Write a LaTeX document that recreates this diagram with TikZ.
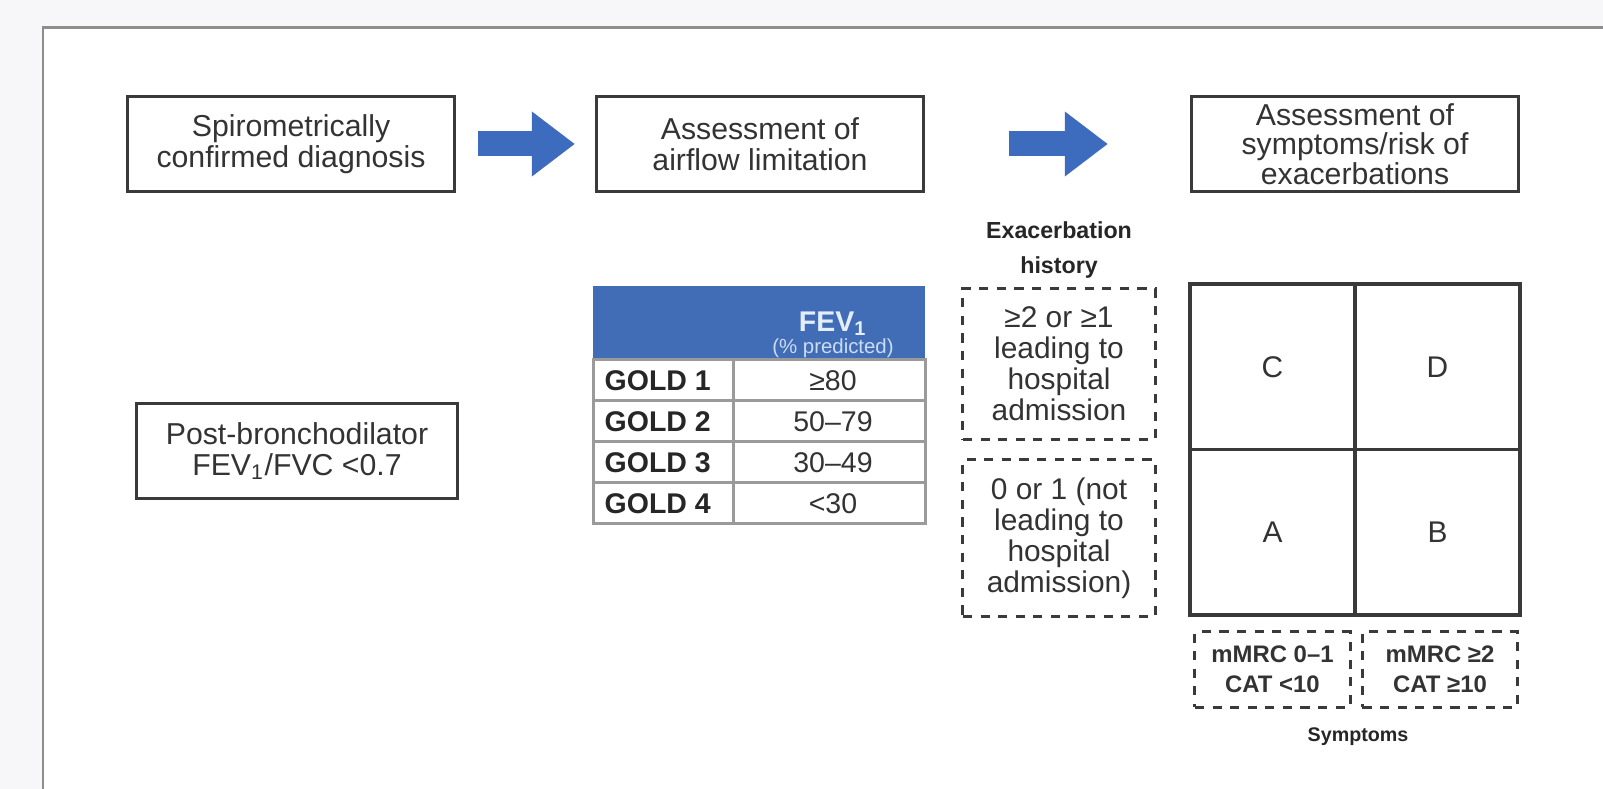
\documentclass[tikz,border=0pt]{standalone}
\usepackage{fontspec}
\setmainfont{Liberation Sans}
\usetikzlibrary{arrows.meta}

\definecolor{bggray}{HTML}{F7F6F9}
\definecolor{framegray}{HTML}{8E8E8E}
\definecolor{boxline}{HTML}{3A3A3A}
\definecolor{txtgray}{HTML}{333333}
\definecolor{arrowblue}{HTML}{3D6CBF}
\definecolor{headblue}{HTML}{416DB6}
\definecolor{headtext}{HTML}{E4EEFF}
\definecolor{tablegray}{HTML}{9A9A9A}

\tikzset{
  stagebox/.style={draw=boxline, line width=0.85pt, fill=white, align=center, text=txtgray,
    inner sep=0pt, minimum width=3.27cm, minimum height=0.95cm, font=\fontsize{8.6}{8.9}\selectfont},
  histbox/.style={draw=boxline, line width=0.85pt, dash pattern=on 2.6pt off 2.4pt, align=center,
    text=txtgray, inner sep=0pt, minimum width=1.92cm, font=\fontsize{8.5}{8.8}\selectfont},
  sympbox/.style={draw=boxline, line width=0.85pt, dash pattern=on 2.6pt off 2.4pt, align=center,
    text=txtgray, inner sep=0pt, minimum width=1.55cm, minimum height=0.75cm,
    font=\bfseries\fontsize{6.8}{8.6}\selectfont},
  gradecell/.style={draw=boxline, line width=0.95pt, inner sep=0pt, minimum width=1.65cm,
    minimum height=1.655cm, text=txtgray, font=\fontsize{8.5}{9}\selectfont},
  flowarrow/.style={draw=arrowblue, line width=0.25cm, -{Triangle[length=0.43cm, width=0.62cm]}},
  goldcell/.style={anchor=west, inner sep=0pt, text=black!85, font=\bfseries\fontsize{8.1}{9}\selectfont},
  valcell/.style={text=txtgray, font=\fontsize{8.1}{9}\selectfont},
}

\begin{document}
\begin{tikzpicture}[x=0.01cm, y=-0.01cm]
  \useasboundingbox (0,0) rectangle (1603,789);

  % background and frame
  \fill[bggray] (0,0) rectangle (1603,789);
  \fill[white] (43,28) rectangle (1603,789);
  \draw[framegray, line width=0.85pt] (43,789) -- (43,28) -- (1603,28);

  % top row of stages
  \node[stagebox] (spiro) at (291,144) {Spirometrically\\confirmed diagnosis};
  \node[stagebox] (airflow) at (760,144) {Assessment of\\airflow limitation};
  \node[stagebox, font=\fontsize{8.6}{8.4}\selectfont] (symrisk) at (1355,144)
    {Assessment of\\symptoms/risk of\\exacerbations};

  % blue arrows
  \draw[flowarrow, shorten <=0.22cm, shorten >=0.2cm] (spiro.east) -- (airflow.west);
  \draw[flowarrow, shorten <=0.84cm, shorten >=0.82cm] (airflow.east) -- (symrisk.west);

  % post-bronchodilator criterion
  \node[stagebox, minimum width=3.21cm] (postbd) at (297,451)
    {Post-bronchodilator\\FEV\textsubscript{1}/FVC <0.7};

  % GOLD table
  \fill[headblue] (593,286) rectangle (925,360);
  \draw[black!60!headblue, line width=0.85pt] (593,360) -- (925,360);
  \node[text=headtext, font=\bfseries\fontsize{8.1}{9}\selectfont] (fevhead) at (833,324) {FEV\textsubscript{1}};
  \node[text=headtext!85!headblue, font=\fontsize{5.8}{7}\selectfont] (fevunit) at (833,348) {(\% predicted)};
  \foreach \g/\v [count=\i] in {1/≥80, 2/50–79, 3/30–49, 4/<30} {
    \node[goldcell] (gold\i) at (604,{360+41*(\i-0.5)}) {GOLD \g};
    \node[valcell] (fev\i) at (833,{360+41*(\i-0.5)}) {\v};
    \draw[tablegray, line width=0.85pt] (593,{360+41*\i}) -- (925,{360+41*\i});
  }
  \draw[tablegray, line width=0.85pt] (593,360) rectangle (925,524);
  \draw[tablegray, line width=0.85pt] (733,360) -- (733,524);

  % exacerbation history
  \node[align=center, text=black!85, font=\bfseries\fontsize{6.6}{9.8}\selectfont] (exhist) at (1059,250)
    {Exacerbation\\history};
  \node[histbox, minimum height=1.51cm] (histhigh) at (1059,364)
    {≥2 or ≥1\\leading to\\hospital\\admission};
  \node[histbox, minimum height=1.56cm] (histlow) at (1059,538)
    {0 or 1 (not\\leading to\\hospital\\admission)};

  % ABCD grid
  \node[gradecell] (gradeC) at (1272.5,366.75) {C};
  \node[gradecell] (gradeD) at (1437.5,366.75) {D};
  \node[gradecell] (gradeA) at (1272.5,532.25) {A};
  \node[gradecell] (gradeB) at (1437.5,532.25) {B};

  % symptom scores
  \node[sympbox] (sympLow) at (1272.5,669.5) {mMRC 0–1\\CAT <10};
  \node[sympbox] (sympHigh) at (1440,669.5) {mMRC ≥2\\CAT ≥10};
  \node[text=black!85, font=\bfseries\fontsize{5.6}{7}\selectfont] (symptoms) at (1358,737) {Symptoms};
\end{tikzpicture}
\end{document}
